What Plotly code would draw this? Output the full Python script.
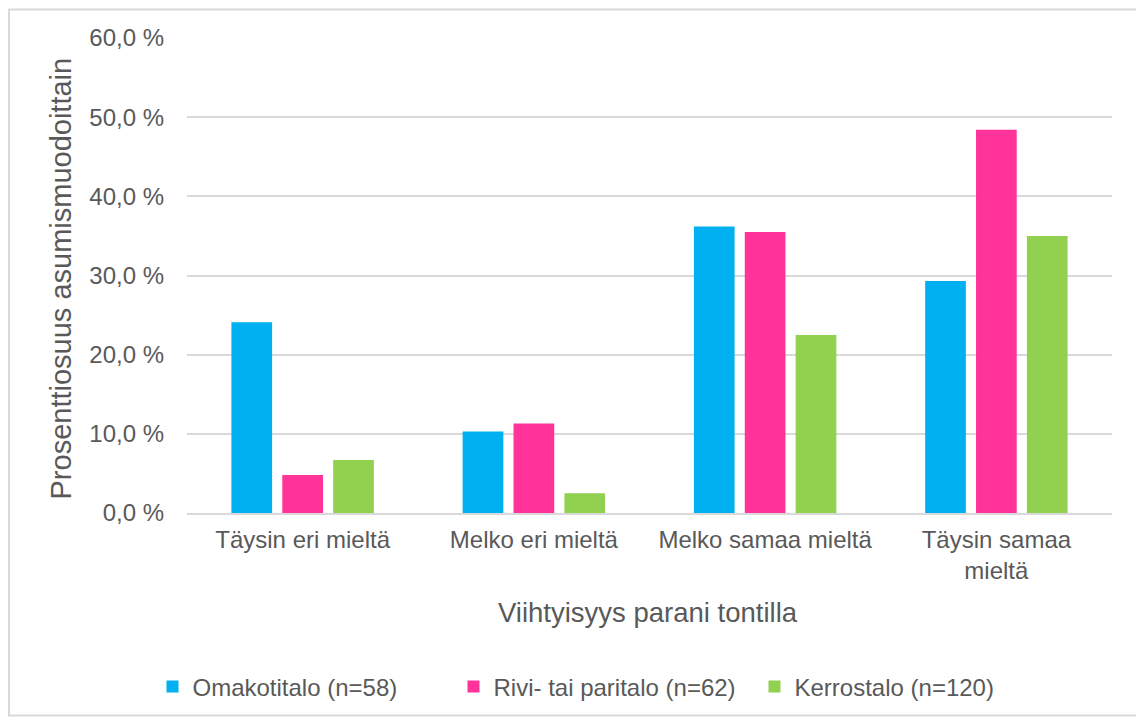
import plotly.graph_objects as go

categories = ["Täysin eri mieltä", "Melko eri mieltä", "Melko samaa mieltä", "Täysin samaa<br>mieltä"]
series_names = ["Omakotitalo (n=58)", "Rivi- tai paritalo (n=62)", "Kerrostalo (n=120)"]
omakotitalo = [24.1, 10.3, 36.2, 29.3]
rivitalo = [4.8, 11.3, 35.5, 48.4]
kerrostalo = [6.7, 2.5, 22.5, 35.0]
colors = ["#00B0F0", "#FF3399", "#92D050"]
tick_vals = [0, 10, 20, 30, 40, 50, 60]
tick_text = ["0,0 %", "10,0 %", "20,0 %", "30,0 %", "40,0 %", "50,0 %", "60,0 %"]

FONT = "Liberation Sans, Arial, sans-serif"
TXT = "#595959"

fig = go.Figure()
for name, vals, col in zip(series_names, [omakotitalo, rivitalo, kerrostalo], colors):
    fig.add_trace(go.Bar(x=categories, y=vals, name=name, marker=dict(color=col, line=dict(width=0))))

# page has an 8px body margin: figure origin sits at (8, 8) of the screenshot
OFF = 8
W, H = 1144 - OFF, 720 - OFF
PL, PR, PT, PB = 187, 1112, 38, 514  # plot area in screenshot pixels
L, R, T, B = PL - OFF, W - (PR - OFF), PT - OFF, H - (PB - OFF)
pw, ph = PR - PL, PB - PT

def px_x(p):
    return (p - PL) / pw

def px_y(p):
    return (PB - p) / ph

fig.update_layout(
    width=W, height=H,
    margin=dict(l=L, r=R, t=T, b=B),
    paper_bgcolor="white", plot_bgcolor="white",
    barmode="group", bargap=0.34, bargroupgap=0.2,
    font=dict(family=FONT, color=TXT, size=24),
    showlegend=True,
    legend=dict(orientation="h", x=px_x(604), xanchor="center", y=px_y(687), yanchor="middle",
                font=dict(size=24, color=TXT), itemwidth=30, traceorder="normal",
                entrywidth=256, entrywidthmode="pixels"),
    xaxis=dict(showgrid=False, showline=True, linecolor="#D9D9D9", linewidth=2,
               tickfont=dict(size=24, color=TXT), ticks="", ticklabelstandoff=4),
    yaxis=dict(range=[0, 60], tickvals=tick_vals, ticktext=tick_text, showgrid=True,
               gridcolor="#D9D9D9", gridwidth=1.5, zeroline=False, showline=False,
               tickfont=dict(size=24, color=TXT), ticklabelstandoff=22),
    annotations=[
        dict(text="Prosenttiosuus asumismuodoittain", xref="paper", yref="paper",
             x=px_x(61), y=px_y(279), textangle=-90, showarrow=False,
             font=dict(size=29, color=TXT), xanchor="center", yanchor="middle"),
        dict(text="Viihtyisyys parani tontilla", xref="paper", yref="paper",
             x=px_x(648), y=px_y(614), showarrow=False,
             font=dict(size=27.5, color=TXT), xanchor="center", yanchor="middle"),
    ],
    shapes=[
        dict(type="rect", xref="paper", yref="paper", x0=px_x(9), x1=px_x(1140),
             y0=px_y(717), y1=px_y(9.5), line=dict(color="#D9D9D9", width=2), layer="below"),
    ],
)

fig.write_html("out.html")
